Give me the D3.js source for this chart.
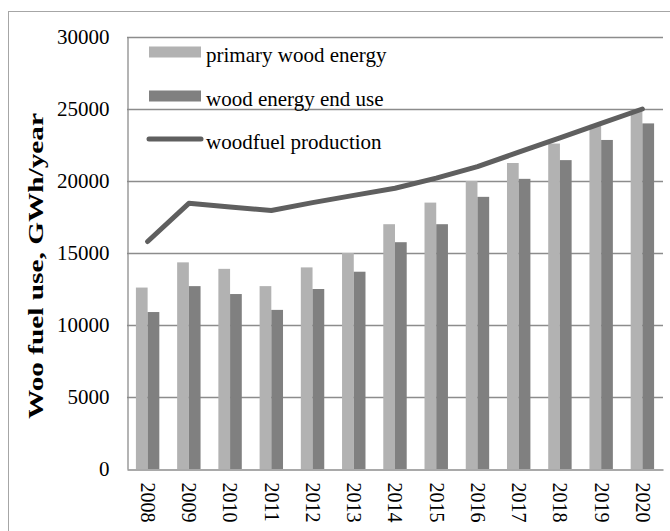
<!DOCTYPE html>
<html>
<head>
<meta charset="utf-8">
<script src="https://cdn.jsdelivr.net/npm/d3@7"></script>
<style>
  html, body { margin: 0; padding: 0; background: #fff; }
  svg { display: block; font-family: "Liberation Serif", "Times New Roman", serif; }
</style>
</head>
<body>
<svg id="chart" width="670" height="531"></svg>
<script>
// Wood fuel use in GWh per year, 2008-2020
const years = ["2008","2009","2010","2011","2012","2013","2014","2015","2016","2017","2018","2019","2020"];
const primaryWoodEnergy = [12600, 14350, 13900, 12700, 14000, 15000, 17000, 18500, 20000, 21250, 22600, 23900, 24900];
const woodEnergyEndUse  = [10900, 12700, 12150, 11050, 12500, 13700, 15750, 17000, 18900, 20150, 21450, 22850, 24000];
const woodfuelProduction = [15800, 18450, 18200, 17950, 18500, 19000, 19500, 20200, 21000, 22000, 23000, 24000, 25000];
const yTicks = [0, 5000, 10000, 15000, 20000, 25000, 30000];
const seriesNames = ["primary wood energy", "wood energy end use"];
const lineName = "woodfuel production";
const yTitle = "Woo fuel use, GWh/year";

const svg = d3.select("#chart");
const W = 670, H = 531;
const plot = { left: 127, right: 663, top: 37, bottom: 469 };
const colors = { primary: "#b2b2b2", endUse: "#808080", line: "#5f5f5f", grid: "#8c8c8c" };

svg.append("rect").attr("width", W).attr("height", H).attr("fill", "#fff");
// chart area frame
svg.append("rect")
  .attr("x", 8.5).attr("y", 11.5)
  .attr("width", 700).attr("height", 600)
  .attr("fill", "none").attr("stroke", "#a6a6a6").attr("stroke-width", 1);

const x0 = d3.scaleBand().domain(years).range([plot.left, plot.right]).paddingInner(0).paddingOuter(0);
const x1 = d3.scaleBand().domain(seriesNames).range([0, x0.bandwidth()]).paddingInner(0).paddingOuter(0.76);
const y = d3.scaleLinear().domain([0, 30000]).range([plot.bottom, plot.top]);

// horizontal gridlines
svg.append("g")
  .selectAll("line")
  .data(yTicks.filter(d => d > 0))
  .join("line")
  .attr("x1", plot.left).attr("x2", plot.right)
  .attr("y1", d => Math.round(y(d)) + 0.5).attr("y2", d => Math.round(y(d)) + 0.5)
  .attr("stroke", colors.grid).attr("stroke-width", 1.3);

// bars
const rows = years.map((yr, i) => ({ year: yr, vals: [primaryWoodEnergy[i], woodEnergyEndUse[i]] }));
const barColors = [colors.primary, colors.endUse];
const groups = svg.append("g").selectAll("g")
  .data(rows).join("g")
  .attr("transform", d => `translate(${x0(d.year)},0)`);
groups.selectAll("rect")
  .data(d => d.vals.map((v, k) => ({ key: seriesNames[k], v, k })))
  .join("rect")
  .attr("x", d => x1(d.key))
  .attr("width", x1.bandwidth())
  .attr("y", d => y(d.v))
  .attr("height", d => y(0) - y(d.v))
  .attr("fill", d => barColors[d.k]);

// y axis
const yAxis = svg.append("g")
  .attr("transform", `translate(${plot.left + 0.5},0)`)
  .call(d3.axisLeft(y).tickValues(yTicks).tickSize(0).tickPadding(18).tickFormat(d3.format("d")));
yAxis.select(".domain").attr("stroke", colors.grid).attr("stroke-width", 1.3);
yAxis.selectAll("text").attr("font-size", 21).attr("fill", "#000")
  .attr("font-family", "Liberation Serif, Times New Roman, serif");

// x axis
const xAxis = svg.append("g")
  .attr("transform", `translate(0,${plot.bottom + 0.5})`)
  .call(d3.axisBottom(x0).tickSize(0).tickPadding(0));
xAxis.select(".domain").attr("stroke", colors.grid).attr("stroke-width", 1.3);
xAxis.selectAll("text")
  .attr("font-size", 20).attr("fill", "#000")
  .attr("font-family", "Liberation Serif, Times New Roman, serif")
  .attr("text-anchor", "start")
  .attr("y", 0).attr("dy", "0.33em")
  .attr("transform", "translate(0,13) rotate(90)");

// production line
const line = d3.line()
  .x((d, i) => x0(years[i]) + x0.bandwidth() / 2)
  .y(d => y(d));
svg.append("path")
  .datum(woodfuelProduction)
  .attr("d", line)
  .attr("fill", "none")
  .attr("stroke", colors.line)
  .attr("stroke-width", 5)
  .attr("stroke-linecap", "round")
  .attr("stroke-linejoin", "round");

// y axis title
svg.append("text")
  .attr("transform", "translate(43,266) rotate(-90)")
  .attr("text-anchor", "middle")
  .attr("font-size", 20).attr("font-weight", "bold").attr("fill", "#000")
  .attr("textLength", 306).attr("lengthAdjust", "spacingAndGlyphs")
  .text(yTitle);

// legend
const legend = svg.append("g");
const legendItems = [
  { name: seriesNames[0], type: "bar", color: colors.primary, cy: 52 },
  { name: seriesNames[1], type: "bar", color: colors.endUse, cy: 96 },
  { name: lineName, type: "line", color: colors.line, cy: 139 }
];
legendItems.forEach(it => {
  if (it.type === "bar") {
    legend.append("rect").attr("x", 149).attr("y", it.cy - 5.5)
      .attr("width", 52).attr("height", 11).attr("fill", it.color);
  } else {
    legend.append("line").attr("x1", 149).attr("x2", 201)
      .attr("y1", it.cy).attr("y2", it.cy)
      .attr("stroke", it.color).attr("stroke-width", 5).attr("stroke-linecap", "round");
  }
  legend.append("text").attr("x", 206).attr("y", it.cy + 9.5)
    .attr("font-size", 21).attr("fill", "#000").text(it.name);
});
</script>
</body>
</html>
